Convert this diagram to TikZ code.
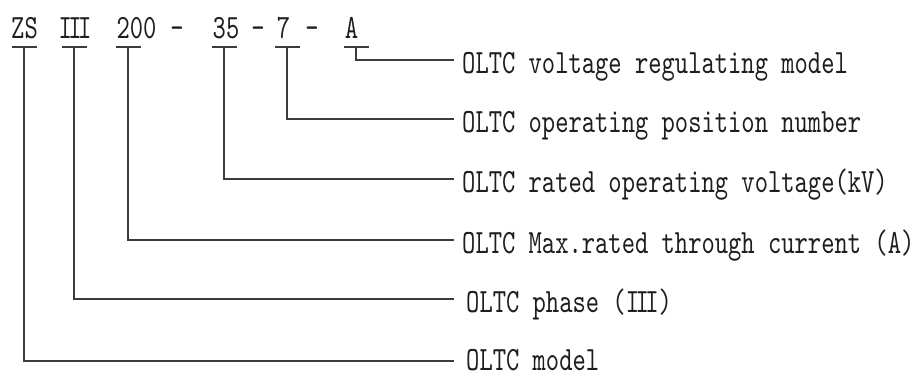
\documentclass[tikz,border=0pt]{standalone}
\usepackage{fontspec}
\newfontfamily\codefont{lmmono10-regular.otf}[FakeStretch=0.745]
\usepackage{tikz}
\usetikzlibrary{positioning}
\definecolor{ink}{HTML}{1E1E1E}
\definecolor{leadgray}{HTML}{3C3C3C}
\newcommand{\romthree}{I\kern-3.5pt I\kern-3.5pt I}

\begin{document}
\begin{tikzpicture}[x=1pt,y=-1pt,font=\codefont\fontsize{34}{36}\selectfont,
    code/.style={anchor=base,inner sep=0pt,text=ink},
    lbl/.style={anchor=west,inner xsep=8pt,inner ysep=0pt,text height=26pt,text depth=0pt,text=ink},
    lead/.style={leadgray,line width=1.4pt}]
  \useasboundingbox (0,0) rectangle (915,378);
  % type code
  \node[code] (zs)   at (24.5,38)  {ZS};
  \node[code] (ph)   at (75,38)    {\romthree};
  \node[code] (cur)  at (136.5,38) {200};
  \node[code] (d1)   at (177,38)   {-};
  \node[code] (volt) at (226,38)   {35};
  \node[code] (d2)   at (258,38)   {-};
  \node[code] (pos)  at (283.5,38) {7};
  \node[code] (d3)   at (312,38)   {-};
  \node[code] (mod)  at (351.5,38) {A};
  % meanings
  \node[lbl] (lmod)  at (454,60)  {OLTC voltage regulating model};
  \node[lbl] (lpos)  at (454,119) {OLTC operating position number};
  \node[lbl] (lvolt) at (454,179) {OLTC rated operating voltage(kV)};
  \node[lbl] (lcur)  at (454,240) {OLTC Max.rated through current (A)};
  \node[lbl,inner xsep=12pt] (lph) at (454,299) {OLTC phase (\romthree)};
  \node[lbl,inner xsep=12pt,text height=18pt] (lzs) at (454,361) {OLTC model};
  % underlines
  \foreach \n/\x in {zs/24,ph/74,cur/128,volt/224,pos/287,mod/356}{
    \coordinate (t\n) at (\x,47);
    \draw[lead] (\x-12.5,47)--(\x+12.5,47);}
  \draw[lead] (tmod) |- (lmod.west);
  \draw[lead] (tpos) |- (lpos.west);
  \draw[lead] (tvolt) |- (lvolt.west);
  \draw[lead] (tcur) |- (lcur.west);
  \draw[lead] (tph) |- (lph.west);
  \draw[lead] (tzs) |- (lzs.west);
\end{tikzpicture}
\end{document}
